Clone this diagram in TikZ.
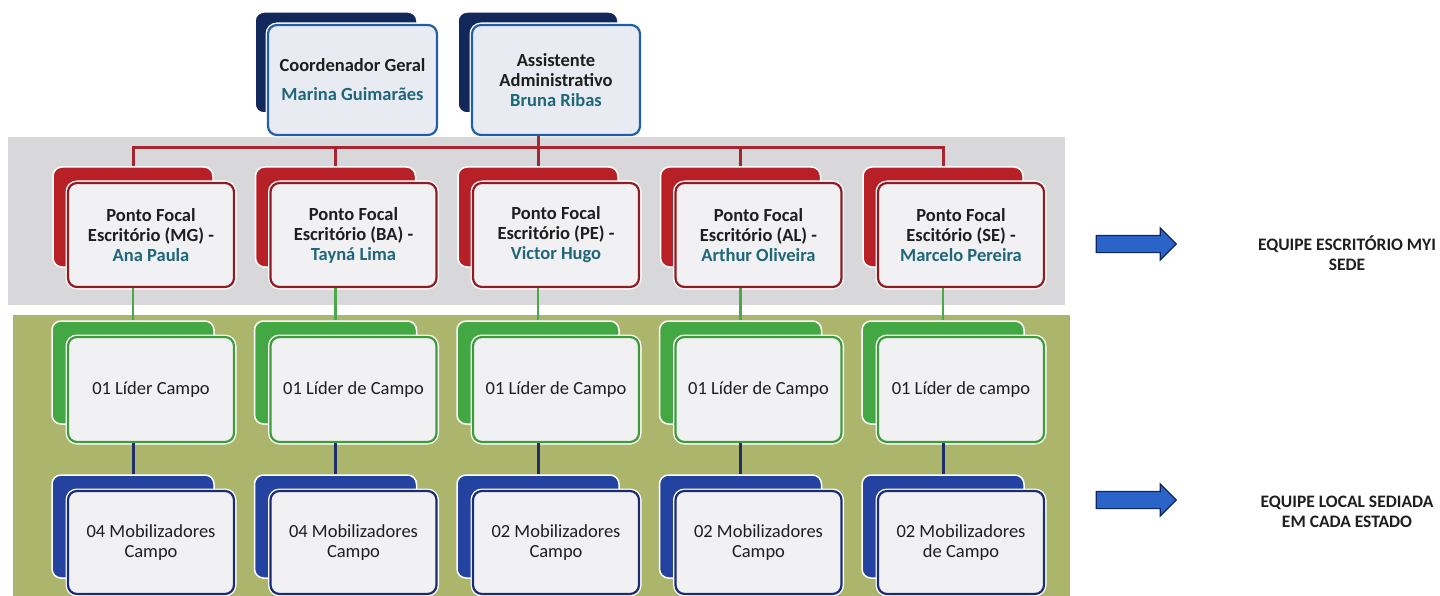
\documentclass[tikz,border=0pt]{standalone}
\usepackage{fontspec}
\setmainfont{Carlito}
\usetikzlibrary{shapes.arrows}
\definecolor{navyback}{HTML}{12285A}
\definecolor{topborder}{HTML}{2160A8}
\definecolor{topfill}{HTML}{E8ECF2}
\definecolor{redback}{HTML}{B82028}
\definecolor{redborder}{HTML}{8E1C22}
\definecolor{greenback}{HTML}{43A843}
\definecolor{greenborder}{HTML}{3E9B3A}
\definecolor{blueback}{HTML}{2443A0}
\definecolor{blueborder}{HTML}{1B2C73}
\definecolor{frontfill}{HTML}{F1F1F3}
\definecolor{grayband}{HTML}{D8D8DA}
\definecolor{greenband}{HTML}{ABB56C}
\definecolor{redconn}{HTML}{A52530}
\definecolor{greenconn}{HTML}{4CA64A}
\definecolor{blueconn}{HTML}{1F2E6A}
\definecolor{arrowfill}{HTML}{2A64C8}
\definecolor{arrowdraw}{HTML}{0C2660}
\definecolor{nameteal}{HTML}{20667A}
\definecolor{txt}{HTML}{1E1E1E}
\begin{document}
\begin{tikzpicture}[x=1pt,y=-1pt,
  box/.style={rectangle, rounded corners=9pt, inner sep=0pt, align=center},
  backbox/.style={box, fill=#1, draw=white, line width=1.5pt},
  frontbox/.style={box, fill=frontfill, draw=#1, line width=2.2pt,
     preaction={draw=white, line width=5pt},
     font=\fontsize{18.5}{20}\selectfont, text=txt},
  redline/.style={draw=redconn, line width=3pt},
  greenline/.style={draw=greenconn, line width=2.5pt},
  blueline/.style={draw=blueconn, line width=3pt},
  blockarrow/.style={single arrow, fill=arrowfill, draw=arrowdraw, line width=1.2pt,
     minimum height=80pt, inner xsep=0pt, inner ysep=8pt, text height=0pt, text depth=0pt,
     single arrow head extend=7.5pt},
  rightlbl/.style={align=center, font=\bfseries\fontsize{17.5}{20}\selectfont, text=txt}
]
\useasboundingbox (0,0) rectangle (1440,596);
% bands
\fill[grayband] (8,137) rectangle (1065,305);
\fill[greenband] (13,315) rectangle (1070,596);
% top boxes
\node[backbox=navyback, minimum width=162pt, minimum height=101pt] (cb) at (336,62.5) {};
\node[frontbox=topborder, fill=topfill, minimum width=169pt, minimum height=110pt] (cf) at (352.5,80)
  {\textbf{Coordenador Geral}\\[9pt]\textbf{\textcolor{nameteal}{Marina Guimarães}}};
\node[backbox=navyback, minimum width=160pt, minimum height=101pt] (ab) at (538,62.5) {};
\node[frontbox=topborder, fill=topfill, minimum width=168pt, minimum height=110pt] (af) at (556,80)
  {\textbf{Assistente}\\\textbf{Administrativo}\\\textbf{\textcolor{nameteal}{Bruna Ribas}}};
% columns
\foreach \i/\esc/\nm/\lid/\mob in {
  1/{Escritório (MG) -}/{Ana Paula}/{01 Líder Campo}/{04 Mobilizadores\\Campo},
  2/{Escritório (BA) -}/{Tayná Lima}/{01 Líder de Campo}/{04 Mobilizadores\\Campo},
  3/{Escritório (PE) -}/{Victor Hugo}/{01 Líder de Campo}/{02 Mobilizadores\\Campo},
  4/{Escritório (AL) -}/{Arthur Oliveira}/{01 Líder de Campo}/{02 Mobilizadores\\Campo},
  5/{Escitório (SE) -}/{Marcelo Pereira}/{01 Líder de campo}/{02 Mobilizadores\\de Campo}}{
  \pgfmathsetmacro\dx{202.5*(\i-1)}
  \node[backbox=redback, minimum width=160pt, minimum height=100pt] (pb\i) at (133+\dx,217) {};
  \node[frontbox=redborder, minimum width=166pt, minimum height=104pt] (pf\i) at (151+\dx,235)
    {\textbf{Ponto Focal}\\\textbf{\esc}\\\textbf{\textcolor{nameteal}{\nm}}};
  \node[backbox=greenback, minimum width=162pt, minimum height=103pt] (lb\i) at (133+\dx,372.5) {};
  \node[frontbox=greenborder, minimum width=166pt, minimum height=105pt] (lf\i) at (151+\dx,389.5) {\lid};
  \node[backbox=blueback, minimum width=162pt, minimum height=103pt] (mb\i) at (133+\dx,526.5) {};
  \node[frontbox=blueborder, minimum width=166pt, minimum height=103pt] (mf\i) at (151+\dx,542.5) {\mob};
}
% connectors
\coordinate (hub) at (538,148);
\draw[redline] (ab.south |- af.south) -- (hub);
\foreach \i in {1,...,5}{
  \draw[redline] (hub) -| (pb\i.north);
  \draw[greenline] (lb\i.north |- pf\i.south) -- (lb\i.north);
  \draw[blueline] (mb\i.north |- lf\i.south) -- (mb\i.north);
}
% arrows and labels
\node[blockarrow] (arr1) at (1132,244) {};
\node[rightlbl] (lbl1) at (1347,253) {EQUIPE ESCRITÓRIO MYI\\SEDE};
\node[blockarrow] (arr2) at (1132,500) {};
\node[rightlbl] (lbl2) at (1347,512) {EQUIPE LOCAL SEDIADA\\EM CADA ESTADO};
\end{tikzpicture}
\end{document}
